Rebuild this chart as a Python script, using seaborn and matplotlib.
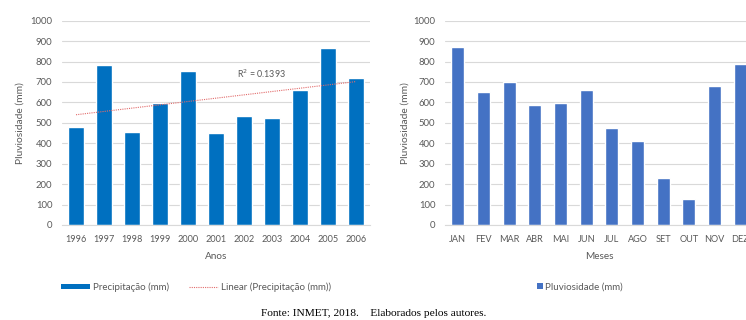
import numpy as np
import pandas as pd
import matplotlib.pyplot as plt
import seaborn as sns
from matplotlib.lines import Line2D
from matplotlib.patches import Patch

# data
anos = ["1996", "1997", "1998", "1999", "2000", "2001", "2002", "2003", "2004", "2005", "2006"]
precipitacao = [480, 785, 455, 597, 755, 450, 532, 525, 662, 868, 720]

meses = ["JAN", "FEV", "MAR", "ABR", "MAI", "JUN", "JUL", "AGO", "SET", "OUT", "NOV", "DEZ"]
pluviosidade = [872, 650, 698, 585, 595, 660, 473, 413, 232, 125, 678, 790]

r2_label = "R$^2$ = 0.1393"

BLUE_L = "#0070C0"
BLUE_R = "#4472C4"
TXT = "#595959"
GRID = "#D9D9D9"

sns.set_theme(style="white")
plt.rcParams['font.family'] = ['Lato', 'DejaVu Sans']

fig = plt.figure(figsize=(7.46, 3.2), dpi=100)
W, H = 746, 320


def px_axes(x0, x1, y_top, y_bot):
    return fig.add_axes([x0 / W, 1 - y_bot / H, (x1 - x0) / W, (y_bot - y_top) / H])


def style_axis(ax, xlabel, ylabel_x):
    ax.set_ylim(0, 1000)
    ax.set_yticks(range(0, 1001, 100))
    ax.yaxis.grid(True, color=GRID, linewidth=0.8)
    ax.set_axisbelow(True)
    for s in ["top", "right", "left"]:
        ax.spines[s].set_visible(False)
    ax.spines["bottom"].set_color(GRID)
    ax.spines["bottom"].set_linewidth(0.8)
    ax.tick_params(axis="y", length=0, labelsize=6.8, labelcolor=TXT, pad=7)
    ax.tick_params(axis="x", length=0, labelsize=6.6, labelcolor=TXT, pad=7)
    ax.set_xlabel(xlabel, fontsize=7.2, color=TXT, labelpad=6)
    ax.set_ylabel("Pluviosidade (mm)", fontsize=7.4, color=TXT)
    # place the y label at a fixed pixel column, as in the source
    ax.yaxis.set_label_coords(ylabel_x / W, 0.5, transform=None)
    ax.yaxis.label.set_transform(
        fig.transFigure + plt.matplotlib.transforms.ScaledTranslation(0, 0, fig.dpi_scale_trans))
    ax.yaxis.label.set_position((ylabel_x / W, (1 - 123 / H)))
    ax.yaxis.label.set_va("center")


# left chart: annual precipitation with linear trend
ax1 = px_axes(62, 370, 20.7, 225)
df1 = pd.DataFrame({"ano": anos, "valor": precipitacao})
sns.barplot(data=df1, x="ano", y="valor", color=BLUE_L, saturation=1, width=0.57, ax=ax1)
xs = np.arange(len(anos))
coef = np.polyfit(xs, precipitacao, 1)
ax1.plot(xs, np.polyval(coef, xs), linestyle=(0, (1, 1)), color="#E26B6B", linewidth=0.8)
ax1.text(6.63, 742, r2_label, fontsize=6.4, color=TXT, ha="center", va="center",
         bbox=dict(facecolor="white", edgecolor="none", pad=1))
ax1.set_xlim(-0.5, len(anos) - 0.5)
style_axis(ax1, "Anos", 20)

handles1 = [Patch(facecolor=BLUE_L, edgecolor="none"),
            Line2D([0], [0], linestyle=(0, (1, 1)), color="#E26B6B", linewidth=0.8)]
fig.legend(handles1, ["Precipitação (mm)", "Linear (Precipitação (mm))"],
           loc="center", bbox_to_anchor=(196 / W, 1 - 287 / H), ncol=2, frameon=False,
           fontsize=7, labelcolor=TXT, handlelength=3.0, handleheight=0.45,
           columnspacing=2.1, handletextpad=0.25)

# right chart: monthly rainfall (cropped at the right edge like the source)
ax2 = px_axes(445, 753, 20.7, 225)
df2 = pd.DataFrame({"mes": meses, "valor": pluviosidade})
sns.barplot(data=df2, x="mes", y="valor", color=BLUE_R, saturation=1, width=0.5, ax=ax2)
ax2.set_xlim(-0.5, len(meses) - 0.5)
style_axis(ax2, "Meses", 405)

fig.legend([Patch(facecolor=BLUE_R, edgecolor="none")], ["Pluviosidade (mm)"],
           loc="center", bbox_to_anchor=(580 / W, 1 - 287 / H), frameon=False,
           fontsize=7, labelcolor=TXT, handlelength=0.6, handleheight=0.6,
           handletextpad=0.25)

fig.text(374 / W, 1 - 313 / H, "Fonte: INMET, 2018.    Elaborados pelos autores.",
         family="Liberation Serif", fontsize=8.2, color="black", ha="center", va="center")

fig.savefig("out.png", dpi=100)
